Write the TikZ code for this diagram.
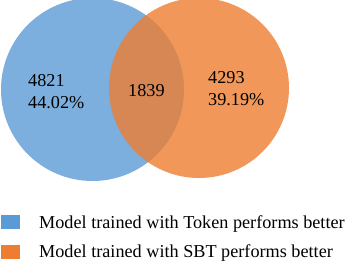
\documentclass[tikz,border=0pt]{standalone}
\usepackage{fontspec}
\setmainfont{Liberation Serif}
\definecolor{vblue}{HTML}{5B9BD5}
\definecolor{vorange}{HTML}{ED7D31}
\begin{document}
\begin{tikzpicture}[x=1pt,y=-1pt,
  lbl/.style={anchor=base west,inner sep=0pt,font=\fontsize{18.2}{22}\selectfont,text=black},
  key/.style={minimum width=19pt,minimum height=14pt,inner sep=0pt,anchor=north west}]
\useasboundingbox (0,0) rectangle (359,270);
\begin{scope}
\clip (0,0) rectangle (359,270);
\fill[vblue,fill opacity=0.8] (92.5,89.5) circle[radius=91.5];
\fill[vorange,fill opacity=0.8] (199,88) circle[radius=90];
\end{scope}
\node[lbl] (a1) at (28,87) {4821};
\node[lbl] (a2) at (28,108) {44.02\%};
\node[lbl] (c) at (128,96) {1839};
\node[lbl] (b1) at (208,84) {4293};
\node[lbl] (b2) at (208,106) {39.19\%};
\node[key,fill=vblue] (k1) at (1,215) {};
\node[key,fill=vorange] (k2) at (1,245) {};
\node[lbl] (t1) at (39,228) {Model trained with Token performs better};
\node[lbl] (t2) at (39,257) {Model trained with SBT performs better};
\end{tikzpicture}
\end{document}
